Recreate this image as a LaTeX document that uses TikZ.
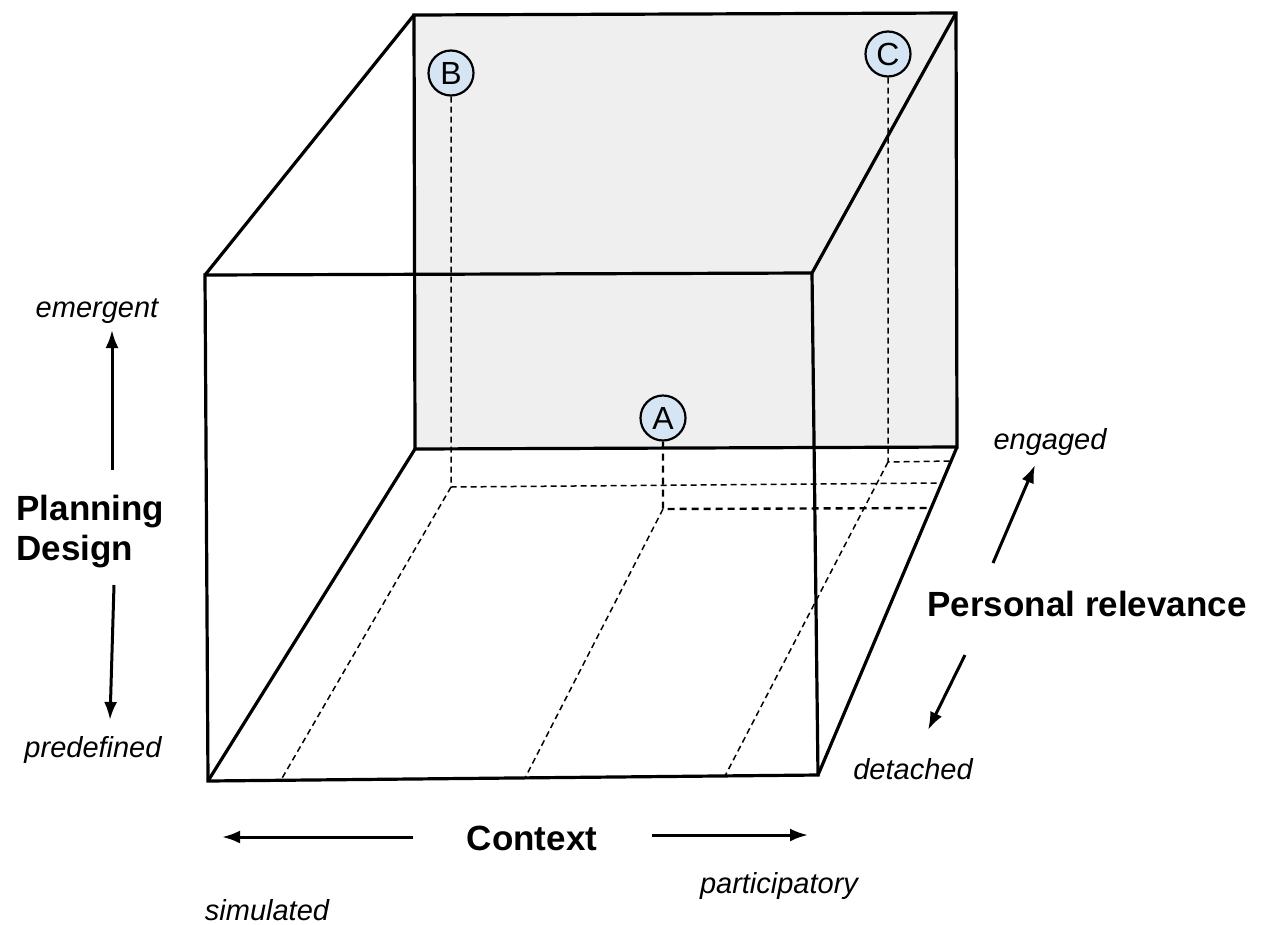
\documentclass[tikz,border=0pt]{standalone}
\usepackage{fontspec}
\setmainfont{Liberation Sans}
\usetikzlibrary{arrows.meta}
\definecolor{backgray}{HTML}{EFEFEF}
\definecolor{ptblue}{HTML}{D6E5F3}
\tikzset{
  edge/.style={line width=3.2pt, line join=miter},
  guide/.style={line width=1.5pt, dash pattern=on 6pt off 4pt},
  guideA/.style={line width=2.4pt, dash pattern=on 7pt off 5pt},
  pt/.style={circle, draw, line width=2.2pt, fill=ptblue, minimum size=45pt, inner sep=0pt, font=\fontsize{32}{34}\selectfont},
  axlab/.style={font=\bfseries\fontsize{35}{40}\selectfont, align=left},
  endlab/.style={font=\itshape\fontsize{29}{32}\selectfont},
  axarrow/.style={line width=3pt, -{Latex[length=18pt,width=13pt]}}
}
\begin{document}
\begin{tikzpicture}[x=1pt,y=-1pt]
\useasboundingbox (0,0) rectangle (1268,924);
% cube corners
\coordinate (BTL) at (414,15);
\coordinate (BTR) at (956,13);
\coordinate (BBR) at (957,447);
\coordinate (BBL) at (415,449);
\coordinate (FTL) at (205,275);
\coordinate (FTR) at (812,273);
\coordinate (FBR) at (818,775);
\coordinate (FBL) at (208,781);
% back face
\fill[backgray] (BTL) -- (BTR) -- (BBR) -- (BBL) -- cycle;
% guide coordinates
\coordinate (Bf) at (451,487);
\coordinate (Br) at (941,483);
\coordinate (Bb) at (281,780);
\coordinate (Af) at (663,509);
\coordinate (Ar) at (931,508);
\coordinate (Ab) at (525,778);
\coordinate (Cf) at (888,462);
\coordinate (Cr) at (951,461);
\coordinate (Cb) at (725,776);
% points
\node[pt] (B) at (451,73) {B};
\node[pt] (C) at (888,54) {C};
\node[pt] (A) at (663,418) {A};
% dashed guides
\draw[guide] (B.south) -- (Bf) -- (Br);
\draw[guide] (Bf) -- (Bb);
\draw[guide] (C.south) -- (Cf) -- (Cr);
\draw[guide] (Cf) -- (Cb);
\draw[guideA] (A.south) -- (Af) -- (Ar);
\draw[guide] (Af) -- (Ab);
% cube edges
\draw[edge] (BTL) -- (BTR) -- (BBR) -- (BBL) -- cycle;
\draw[edge] (FTL) -- (FTR) -- (FBR) -- (FBL) -- cycle;
\draw[edge] (FTL) -- (BTL);
\draw[edge] (FTR) -- (BTR);
\draw[edge] (FBL) -- (BBL);
\draw[edge] (FBR) -- (BBR);
% labels
\node[axlab, anchor=west] (pd) at (13,532) {Planning\\Design};
\node[endlab] (em) at (97,311) {emergent};
\node[endlab] (pre) at (93,750) {predefined};
\node[axlab] (ctx) at (532,838) {Context};
\node[endlab] (sim) at (267,910) {simulated};
\node[endlab] (par) at (779,886) {participatory};
\node[endlab] (eng) at (1050,442) {engaged};
\node[axlab] (pr) at (1087,604) {Personal relevance};
\node[endlab] (det) at (913,769) {detached};
% arrows
\coordinate (u1) at (112,470); \coordinate (u2) at (112,330);
\coordinate (d1) at (114,585); \coordinate (d2) at (110,720);
\coordinate (l1) at (413,837); \coordinate (l2) at (222,837);
\coordinate (r1) at (652,835); \coordinate (r2) at (808,835);
\coordinate (e1) at (993,563); \coordinate (e2) at (1035,465);
\coordinate (t1) at (965,655); \coordinate (t2) at (928,730);
\draw[axarrow] (u1) -- (u2);
\draw[axarrow] (d1) -- (d2);
\draw[axarrow] (l1) -- (l2);
\draw[axarrow] (r1) -- (r2);
\draw[axarrow] (e1) -- (e2);
\draw[axarrow] (t1) -- (t2);
\end{tikzpicture}
\end{document}
